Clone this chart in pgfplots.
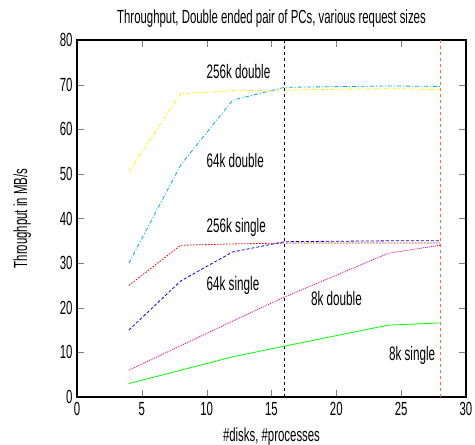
\documentclass[border=0pt]{standalone}
\usepackage{pgfplots}
\pgfplotsset{compat=1.18}
\usepackage{fontspec}
\setmainfont{Liberation Sans}[FakeStretch=0.6]
\definecolor{vorange}{rgb}{1,0.42,0.28}
\begin{document}
\begin{tikzpicture}
\useasboundingbox (-77pt,-48pt) rectangle (398pt,397pt);
\begin{axis}[
  at={(0,0)}, anchor=south west,
  scale only axis,
  width=389pt, height=357pt,
  xmin=0, xmax=30, ymin=0, ymax=80,
  xtick={0,5,...,30}, ytick={0,10,...,80},
  tick align=inside,
  major tick length=7pt,
  /pgf/number format/assume math mode=true,
  ticklabel style={font=\fontsize{19}{20}\selectfont},
  xticklabel style={yshift=-2pt},
  yticklabel style={xshift=-1pt},
  title={Throughput, Double ended pair of PCs, various request sizes},
  title style={font=\fontsize{19}{20}\selectfont, at={(axis description cs:0.5,1.042)}, anchor=center},
  xlabel={\#disks, \#processes},
  ylabel={Throughput in MB/s},
  label style={font=\fontsize{19}{20}\selectfont},
  xlabel style={at={(axis description cs:0.5,-0.112)}, anchor=center},
  ylabel style={at={(axis description cs:-0.141,0.5)}, anchor=center},
  every axis plot/.append style={line width=0.8pt},
  axis line style={line width=1.2pt},
  clip=false,
]
% vertical markers
\addplot[black, dash pattern=on 3pt off 3pt, line width=0.5pt] coordinates {(16,0) (16,80)};
\addplot[vorange, dash pattern=on 3pt off 3pt, line width=0.5pt] coordinates {(28,0) (28,80)};
% 256k double
\addplot[yellow, dash pattern=on 4pt off 2pt on 1pt off 2pt] coordinates {(4,50.5) (8,68) (12,68.6) (16,68.8) (24,69.1) (28,68.9)};
% 64k double
\addplot[cyan, dash pattern=on 4pt off 2pt on 1pt off 2pt] coordinates {(4,30) (8,52) (12,66.5) (16,69.4) (24,69.7) (28,69.6)};
% 256k single
\addplot[red, dash pattern=on 1.5pt off 1.5pt] coordinates {(4,25) (8,34) (12,34.3) (16,34.5) (24,34.5) (28,34.5)};
% 64k single
\addplot[blue, dash pattern=on 3pt off 2pt] coordinates {(4,15) (8,26) (12,32.5) (16,34.8) (24,35) (28,35)};
% 8k double
\addplot[magenta, dash pattern=on 1pt off 1pt] coordinates {(4,6) (8,11.5) (12,17) (16,22.4) (24,32.2) (28,34)};
% 8k single
\addplot[green] coordinates {(4,3) (8,6) (12,9) (16,11.4) (24,16.1) (28,16.6)};
\begin{scope}[every node/.style={font=\fontsize{19.5}{21}\selectfont, anchor=west, inner sep=0pt}]
\node at (axis cs:9.98,72.9) {256k double};
\node at (axis cs:9.98,53.1) {64k double};
\node at (axis cs:9.98,37.9) {256k single};
\node at (axis cs:9.98,24.9) {64k single};
\node at (axis cs:18.04,22.0) {8k double};
\node at (axis cs:24.05,9.4) {8k single};
\end{scope}
\end{axis}
\end{tikzpicture}
\end{document}
